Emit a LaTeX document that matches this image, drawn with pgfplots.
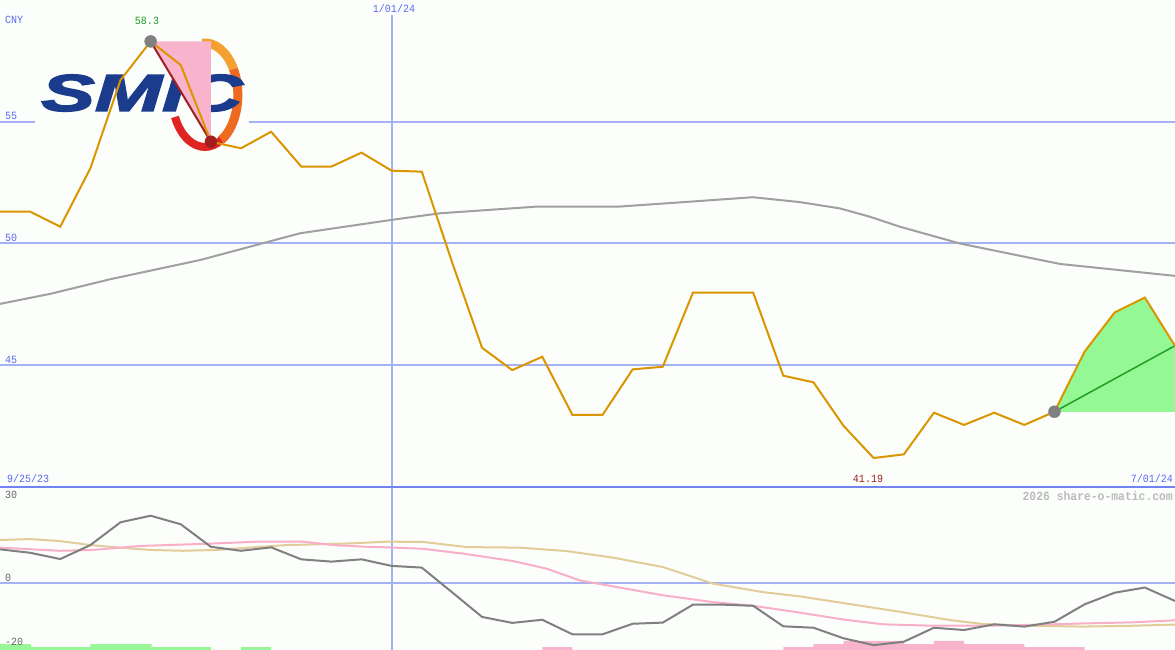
\documentclass[border=0pt]{standalone}
\usepackage{fontspec}
\setmainfont{Liberation Mono}
\newfontfamily\logofont{Liberation Sans}[FakeBold=2.5]
\usepackage{pgfplots}
\pgfplotsset{compat=1.18}

\definecolor{bg}{HTML}{FBFEFB}
\definecolor{gridc}{HTML}{A4B2F4}
\definecolor{sepc}{HTML}{7282F0}
\definecolor{lblue}{HTML}{5A6AF0}
\definecolor{price}{HTML}{DA9500}
\definecolor{magray}{HTML}{A0A0A0}
\definecolor{oscgray}{HTML}{808080}
\definecolor{oscpink}{HTML}{F8B0C8}
\definecolor{osctan}{HTML}{E2CC9A}
\definecolor{barg}{HTML}{98F898}
\definecolor{barp}{HTML}{F8B4CC}
\definecolor{fcgreen}{HTML}{94F894}
\definecolor{fcline}{HTML}{20A020}
\definecolor{dred}{HTML}{A02020}
\definecolor{dgreen}{HTML}{229922}
\definecolor{wmark}{HTML}{BBBBBB}
\definecolor{tgray}{HTML}{666666}
\definecolor{logoblue}{HTML}{1B3C8C}

\begin{document}
\begin{tikzpicture}[font=\fontsize{11}{13}\selectfont]

\fill[bg] (0,0) rectangle (1175pt,650pt);

%%% price panel, weekly closes, x = week index
\begin{axis}[
  name=top,
  at={(0,163pt)}, anchor=south west,
  scale only axis, width=1175pt, height=487pt,
  xmin=0, xmax=39, ymin=40, ymax=60,
  hide axis,
  ]
  \draw[gridc, line width=2pt] (axis cs:0,45) -- (axis cs:39,45);
  \draw[gridc, line width=2pt] (axis cs:0,50) -- (axis cs:39,50);
  \draw[gridc, line width=2pt] (axis cs:0,55) -- (axis cs:39,55);
  \draw[gridc, line width=1.5pt] (axis cs:13.01,59.38) -- (axis cs:13.01,40);

  %%% logo
  \fill[bg] (axis cs:1.16,58.15) rectangle (axis cs:8.26,53.84);
  \draw[line width=9pt, color={rgb,255:red,244;green,160;blue,48}]
    ([shift={(95:33pt and 52pt)}]axis cs:6.80,56.10)
    arc[start angle=95, end angle=30, x radius=33pt, y radius=52pt];
  \draw[line width=9pt, color={rgb,255:red,238;green,106;blue,32}]
    ([shift={(30:33pt and 52pt)}]axis cs:6.80,56.10)
    arc[start angle=30, end angle=-60, x radius=33pt, y radius=52pt];
  \draw[line width=8pt, color={rgb,255:red,224;green,36;blue,36}]
    ([shift={(-60:33pt and 52pt)}]axis cs:6.80,56.10)
    arc[start angle=-60, end angle=-155, x radius=33pt, y radius=52pt];
  \node[text=logoblue, inner sep=0, xscale=1.55,
        font={\logofont\fontsize{52}{52}\selectfont\bfseries\itshape}]
    at (axis cs:4.71,56.18) {SMIC};

  %%% moving average
  \addplot[magray, line width=2pt] coordinates {
    (0,47.52) (1.66,47.93) (3.65,48.53) (6.64,49.32) (9.96,50.42)
    (13.0,50.97) (14.6,51.24) (17.76,51.51) (20.48,51.51) (22.47,51.68)
    (24.99,51.90) (26.55,51.70) (27.88,51.44) (28.87,51.10) (29.87,50.69)
    (31.86,50.00) (35.18,49.16) (39,48.67)};

  %%% drop from high
  \addplot[fill=barp, draw=none] coordinates {(5,58.3) (7,58.3) (7,54.18)} -- cycle;

  %%% forecast
  \addplot[fill=fcgreen, draw=none] coordinates {
    (35,43.09) (36,45.56) (37,47.17) (38,47.78) (39,45.80) (39,43.09)} -- cycle;

  \addplot[only marks, mark=*, mark size=6pt, color=oscgray]
    coordinates {(5,58.3) (35,43.09)};
  \addplot[only marks, mark=*, mark size=6pt, color=dred]
    coordinates {(7,54.18)};

  \addplot[fcline, line width=1.5pt] coordinates {(35,43.09) (39,45.80)};
  \addplot[dred, line width=2pt] coordinates {(5,58.3) (7,54.18)};

  \addplot[price, line width=2pt] coordinates {
    (0,51.31) (1,51.31) (2,50.69) (3,53.09) (4,56.71) (5,58.30) (6,57.33)
    (7,54.18) (8,53.91) (9,54.59) (10,53.16) (11,53.16) (12,53.73) (13,52.99)
    (14,52.95) (15,49.25) (16,45.72) (17,44.80) (18,45.35) (19,42.96)
    (20,42.96) (21,44.83) (22,44.94) (23,47.98) (24,47.98) (25,47.98)
    (26,44.57) (27,44.30) (28,42.51) (29,41.19) (30,41.34) (31,43.05)
    (32,42.55) (33,43.05) (34,42.55) (35,43.09) (36,45.56) (37,47.17)
    (38,47.78) (39,45.80)};
\end{axis}

%%% oscillator panel
\begin{axis}[
  name=bot,
  at={(0,0)}, anchor=south west,
  scale only axis, width=1175pt, height=163pt,
  xmin=0, xmax=39, ymin=-23.51, ymax=33.68,
  hide axis,
  ]
  \draw[gridc, line width=2pt] (axis cs:0,0) -- (axis cs:39,0);
  \draw[gridc, line width=1.5pt] (axis cs:13.01,-23.51) -- (axis cs:13.01,33.68);

  \addplot[const plot, fill=barg, draw=none] coordinates {
    (0,-23.51) (0,-21.41) (1.03,-22.46) (3,-21.41) (5.03,-22.46) (7,-23.51)
    (8,-23.51) (8,-22.46) (9,-23.51)} -- cycle;
  \addplot[const plot, fill=barp, draw=none] coordinates {
    (18,-23.51) (18,-22.46) (19,-23.51)
    (26,-23.51) (26,-22.46) (27,-21.41) (28,-20.35) (30,-21.41) (31,-20.35)
    (32,-21.41) (34,-22.46) (36,-23.51)} -- cycle;

  \addplot[osctan, line width=2pt] coordinates {
    (0,15.1) (1,15.4) (2,14.7) (3,13.3) (4,12.4) (5,11.6) (6.07,11.3)
    (7.2,11.6) (8.4,12.5) (9.5,13.3) (10.6,13.6) (11.7,13.9) (12.84,14.5)
    (14.04,14.4) (15.5,12.6) (17.26,12.4) (18.8,11.2) (20.35,8.9) (22.0,5.6)
    (23.66,-0.2) (25.32,-3.2) (26.55,-4.7) (28.21,-7.4) (29.87,-10.1)
    (31.53,-13.0) (32.63,-14.4) (34.28,-15.0) (35.94,-15.3) (37.6,-15.0)
    (39,-14.6)};
  \addplot[oscpink, line width=2pt] coordinates {
    (0,12.4) (2,11.3) (3.1,11.6) (4.65,13.0) (5.54,13.3) (7.2,13.9)
    (8.53,14.5) (10.06,14.5) (11.05,13.3) (12.18,12.7) (12.61,12.6)
    (14.04,12.0) (15.37,10.3) (17.03,7.7) (18.15,5.0) (19.25,0.9)
    (20.35,-1.2) (22.0,-4.3) (23.66,-6.7) (25.0,-8.0) (26.55,-10.4)
    (27.98,-12.8) (29.31,-14.5) (30.97,-15.0) (32.63,-15.0) (34.28,-14.7)
    (35.94,-14.2) (37.6,-13.8) (39,-13.1)};
  \addplot[oscgray, line width=2pt] coordinates {
    (0,11.8) (1,10.6) (2,8.4) (3,13.3) (4,21.3) (5,23.6) (6,20.6) (7,12.7)
    (8,11.3) (9,12.5) (10,8.3) (11,7.5) (12,8.3) (13,6.0) (14,5.4) (15,-3.2)
    (16,-11.9) (17,-14.0) (18,-12.9) (19,-18.0) (20,-18.0) (21,-14.3)
    (22,-13.9) (23,-7.6) (24,-7.6) (25,-8.0) (26,-15.2) (27,-15.7)
    (28,-19.4) (29,-21.8) (30,-20.6) (31,-15.7) (32,-16.5) (33,-14.5)
    (34,-15.3) (35,-13.6) (36,-7.5) (37,-3.4) (38,-1.6) (39,-6.3)};
\end{axis}

\draw[sepc, line width=2.5pt] (top.south west) -- (top.south east);

%%% labels, in pixel positions from the top left
\begin{scope}[x=1pt, y=-1pt, yshift=650pt,
              every node/.style={inner sep=0, xscale=0.91}]
  \node[anchor=west, text=lblue] at (5,20) {CNY};
  \node[text=dgreen] at (147,21) {58.3};
  \node[text=lblue] at (394,9) {1/01/24};
  \node[anchor=west, text=lblue] at (5,116) {55};
  \node[anchor=west, text=lblue] at (5,238) {50};
  \node[anchor=west, text=lblue] at (5,360) {45};
  \node[anchor=west, text=lblue] at (7,479) {9/25/23};
  \node[anchor=east, text=lblue] at (1173,479) {7/01/24};
  \node[text=dred] at (868,479) {41.19};
  \node[anchor=east, text=wmark, font=\fontsize{12.5}{14}\selectfont\bfseries]
    at (1173,496) {2026 share-o-matic.com};
  \node[anchor=west, text=tgray] at (5,495) {30};
  \node[anchor=west, text=tgray] at (5,578) {0};
  \node[anchor=west, text=tgray] at (5,642) {-20};
\end{scope}

\pgfresetboundingbox
\path[use as bounding box] (0,0) rectangle (1175pt,650pt);
\end{tikzpicture}
\end{document}
